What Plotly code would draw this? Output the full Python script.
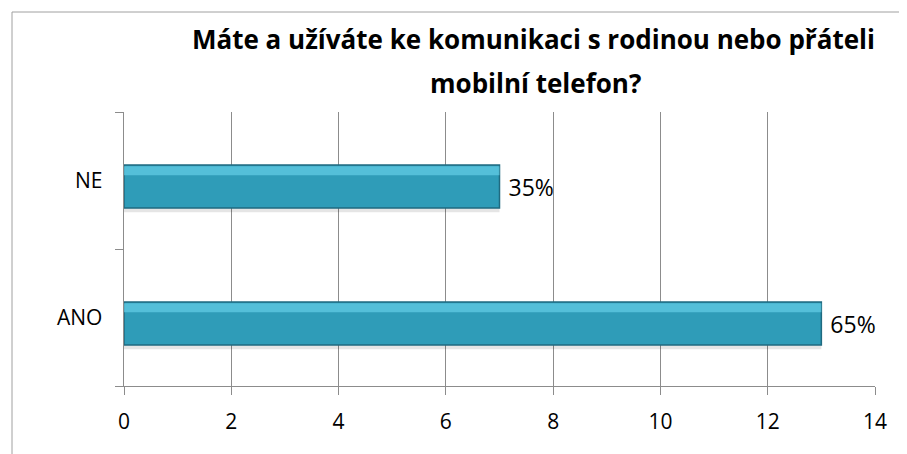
import plotly.graph_objects as go

categories = ["ANO", "NE"]
values = [13, 7]
labels = ["65%", "35%"]
x_ticks = [0, 2, 4, 6, 8, 10, 12, 14]

title_lines = ["Máte a užíváte ke komunikaci s rodinou nebo přáteli", "mobilní telefon?"]

PAGE = 8  # page body offset
W, H = 907 - PAGE, 454 - PAGE
ml, mr, mt, mb = 124 - PAGE, 32, 112 - PAGE, 68
pw, ph = W - ml - mr, H - mt - mb

def px_x(p):
    return (p - PAGE - ml) / pw

def px_y(p):
    return (H - mb - (p - PAGE)) / ph

FONT = "Open Sans"

BAR_OFF, BAR_W = -0.2015, 0.315

fig = go.Figure()
# soft shadow under the bars
fig.add_trace(go.Bar(
    y=categories, x=values, orientation="h", offset=BAR_OFF - 0.03, width=0.05,
    marker=dict(color="rgba(0,0,0,0.10)", line=dict(width=0)), hoverinfo="skip",
))
fig.add_trace(go.Bar(
    y=categories, x=values, orientation="h", offset=BAR_OFF, width=BAR_W,
    text=[" " + t for t in labels], textposition="outside",
    textfont=dict(size=23, color="#000000", family=FONT),
    marker=dict(color="#2f9cb8", line=dict(color="#1f6a80", width=1.5)),
    cliponaxis=False,
))
# light highlight along the top edge
fig.add_trace(go.Bar(
    y=categories, x=values, orientation="h", offset=BAR_OFF + BAR_W - 0.075, width=0.065,
    marker=dict(color="rgba(110,215,238,0.6)", line=dict(width=0)), hoverinfo="skip",
))

grid = "#8c8c8c"
annotations = [
    dict(text="<b>" + title_lines[0] + "</b>", xref="paper", yref="paper",
         x=px_x(533), y=px_y(39), xanchor="center", yanchor="middle", showarrow=False,
         font=dict(family=FONT, size=26, color="#000000")),
    dict(text="<b>" + title_lines[1] + "</b>", xref="paper", yref="paper",
         x=px_x(535), y=px_y(83), xanchor="center", yanchor="middle", showarrow=False,
         font=dict(family=FONT, size=26, color="#000000")),
]

fig.update_layout(
    width=W, height=H,
    margin=dict(l=ml, r=mr, t=mt, b=mb),
    paper_bgcolor="white", plot_bgcolor="white",
    showlegend=False,
    barmode="overlay",
    annotations=annotations,
    xaxis=dict(range=[0, 14], tickvals=x_ticks, showgrid=True, gridcolor=grid, gridwidth=1,
               showline=True, linecolor=grid, linewidth=1, ticks="outside", ticklen=8,
               tickcolor=grid, tickfont=dict(family=FONT, size=21, color="#000000"),
               ticklabelstandoff=9, zeroline=False, automargin=False),
    yaxis=dict(showline=True, linecolor=grid, linewidth=1, ticks="outside", ticklen=8,
               tickcolor=grid, tickson="boundaries", showgrid=False,
               tickfont=dict(family=FONT, size=21, color="#000000"), ticksuffix="   ",
               automargin=False),
    shapes=[
        dict(type="line", xref="paper", yref="paper", x0=px_x(12), x1=px_x(W + 30),
             y0=px_y(12), y1=px_y(12), line=dict(color="#a0a0a0", width=1)),
        dict(type="line", xref="paper", yref="paper", x0=px_x(12), x1=px_x(12),
             y0=px_y(12), y1=px_y(H + 30), line=dict(color="#a0a0a0", width=1)),
    ],
)

fig.write_html("out.html")
